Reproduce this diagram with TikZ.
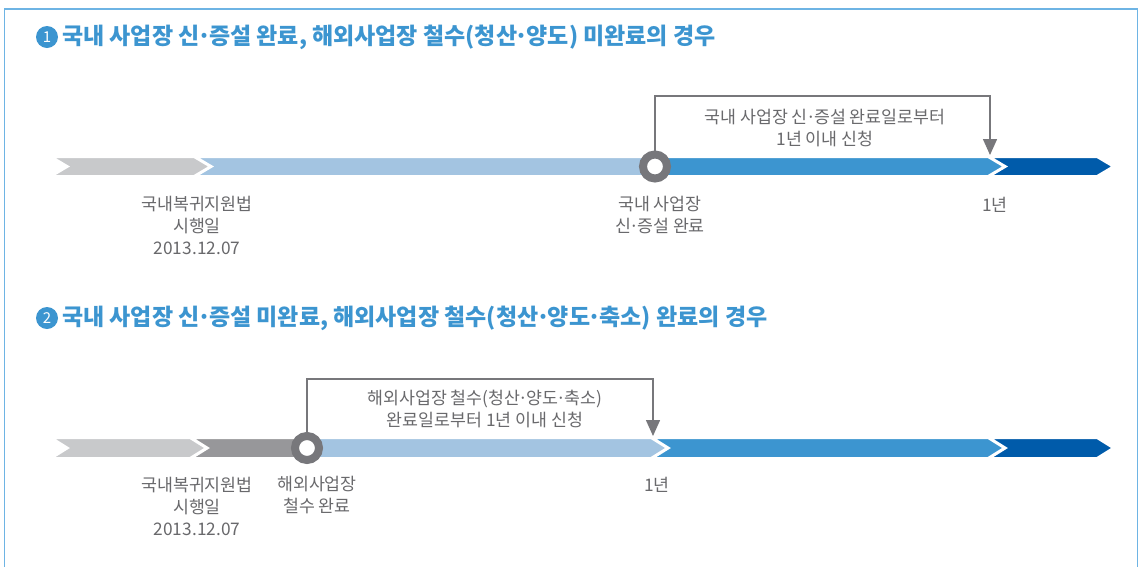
\documentclass[tikz,border=0pt]{standalone}
\usepackage{fontspec}
\setmainfont{Noto Sans CJK KR}
\usetikzlibrary{arrows.meta}
\definecolor{frameC}{RGB}{110,180,228}
\definecolor{headC}{RGB}{60,149,208}
\definecolor{gA}{RGB}{200,201,203}
\definecolor{gB}{RGB}{151,151,154}
\definecolor{bA}{RGB}{163,196,225}
\definecolor{bB}{RGB}{60,149,208}
\definecolor{bC}{RGB}{0,91,170}
\definecolor{ringC}{RGB}{119,119,123}
\definecolor{txtC}{RGB}{105,105,108}
\newcommand\mdt{\kern-0.1em·\kern-0.1em}
\begin{document}
\begin{tikzpicture}[x=1pt,y=-1pt,
  segbox/.style={draw=white,line width=2pt},
  ringnode/.style={circle,draw=ringC,line width=8pt,fill=white,minimum size=24pt,inner sep=0pt},
  numnode/.style={circle,fill=headC,text=white,minimum size=22pt,inner sep=0pt,font=\fontsize{15}{15}\selectfont},
  headtxt/.style={anchor=west,text=headC,inner sep=0pt,font=\fontsize{23}{26}\selectfont\bfseries},
  lbl/.style={align=center,text=txtC,inner sep=0pt,font=\fontsize{17.3}{22}\selectfont},
  brk/.style={draw=ringC,line width=1.4pt,-{Triangle[width=14pt,length=16pt]}}
]
\useasboundingbox (0,0) rectangle (1140,566);
\fill[white] (0,0) rectangle (1140,566);
% frame
\draw[frameC,line width=1.6pt] (4.5,570) -- (4.5,9) -- (1137.5,9) -- (1137.5,570);

% headings
\node[numnode] (n1) at (47,37) {1};
\node[headtxt] (h1) at (62,37) {국내 사업장 신\mdt 증설 완료, 해외사업장 철수(청산\mdt 양도) 미완료의 경우};
\node[numnode] (n2) at (47,318) {2};
\node[headtxt] (h2) at (62,318) {국내 사업장 신\mdt 증설 미완료, 해외사업장 철수(청산\mdt 양도\mdt 축소) 완료의 경우};

% timeline 1
\fill[gA,segbox] (52,157) -- (194,157) -- (210,166.5) -- (194,176) -- (52,176) -- (68,166.5) -- cycle;
\fill[bA,segbox] (196,157) -- (655,157) -- (655,176) -- (196,176) -- (212,166.5) -- cycle;
\fill[bB,segbox] (655,157) -- (988,157) -- (1004,166.5) -- (988,176) -- (655,176) -- cycle;
\fill[bC,segbox] (990,157) -- (1097,157) -- (1113,166.5) -- (1097,176) -- (990,176) -- (1006,166.5) -- cycle;
\node[ringnode] (c1) at (655,166.5) {};
\coordinate (k1) at (990,96);
\coordinate (a1) at (990,155);
\draw[brk] (c1.north) |- (k1) -- (a1);
\node[lbl] (t1) at (825,128) {국내 사업장 신\mdt 증설 완료일로부터\\1년 이내 신청};
\node[lbl] (l11) at (197,225) {국내복귀지원법\\시행일\\2013.12.07};
\node[lbl] (l12) at (660,215) {국내 사업장\\신\mdt 증설 완료};
\node[lbl] (l13) at (995,205) {1년};

% timeline 2
\fill[gA,segbox] (52,438) -- (190,438) -- (206,448) -- (190,458) -- (52,458) -- (68,448) -- cycle;
\fill[gB,segbox] (192,438) -- (307,438) -- (307,458) -- (192,458) -- (208,448) -- cycle;
\fill[bA,segbox] (307,438) -- (651,438) -- (667,448) -- (651,458) -- (307,458) -- cycle;
\fill[bB,segbox] (653,438) -- (988,438) -- (1004,448) -- (988,458) -- (653,458) -- (669,448) -- cycle;
\fill[bC,segbox] (990,438) -- (1097,438) -- (1113,448) -- (1097,458) -- (990,458) -- (1006,448) -- cycle;
\node[ringnode] (c2) at (307,448) {};
\coordinate (k2) at (653,379);
\coordinate (a2) at (653,436);
\draw[brk] (c2.north) |- (k2) -- (a2);
\node[lbl] (t2) at (485,409) {해외사업장 철수(청산\mdt 양도\mdt 축소)\\완료일로부터 1년 이내 신청};
\node[lbl] (l21) at (197,506) {국내복귀지원법\\시행일\\2013.12.07};
\node[lbl] (l22) at (317,495) {해외사업장\\철수 완료};
\node[lbl] (l23) at (657,485) {1년};
\end{tikzpicture}
\end{document}
